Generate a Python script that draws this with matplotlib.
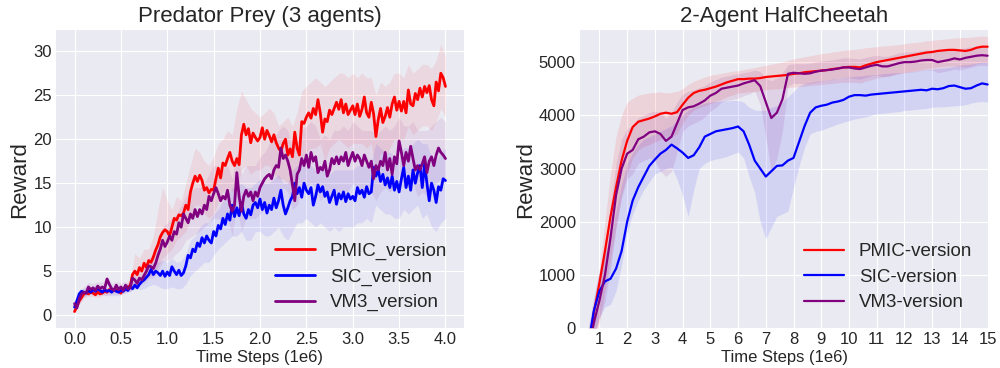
import numpy as np
import matplotlib
matplotlib.use("Agg")
import matplotlib.pyplot as plt

# ---------------- Left: Predator Prey (3 agents) ----------------
pp_steps = np.linspace(0.0, 4.0, 161)
pp_pmic = [
    0.4, 1.0, 1.6, 2.0, 2.4, 2.6, 2.4, 2.6, 2.5, 2.3, 2.6, 2.4, 2.5, 2.7, 2.6, 2.9, 2.7, 2.9, 2.8, 2.7,
    2.5, 3.0, 2.9, 3.2, 3.3, 4.6, 5.0, 4.6, 5.4, 5.0, 5.9, 5.4, 6.2, 6.0, 6.6, 7.4, 8.0, 8.9, 9.4, 9.7,
    9.5, 9.0, 10.0, 11.0, 10.8, 11.4, 11.3, 11.6, 12.5, 12.0, 14.0, 15.0, 15.8, 15.2, 15.9, 15.3, 14.2, 14.5, 13.9, 14.3,
    14.2, 15.5, 16.7, 15.6, 17.3, 17.0, 17.8, 18.5, 17.5, 17.0, 17.8, 17.1, 20.5, 21.7, 20.5, 21.2, 19.6, 20.7, 20.2, 19.8,
    20.2, 21.3, 20.0, 21.0, 20.4, 19.7, 20.5, 19.6, 19.0, 18.6, 19.5, 20.0, 18.2, 18.9, 18.0, 20.8, 19.0, 18.2, 22.0, 21.8,
    22.5, 23.0, 22.4, 23.5, 22.8, 24.5, 23.0, 20.8, 22.3, 22.0, 23.3, 22.8, 23.5, 24.2, 23.4, 24.5, 23.0, 24.0, 22.8, 23.3,
    23.8, 22.8, 24.0, 22.6, 23.4, 24.8, 23.0, 22.5, 24.2, 22.9, 20.3, 22.2, 23.5, 21.9, 22.6, 23.6, 22.5, 24.0, 24.8, 23.3,
    24.3, 23.2, 24.3, 23.0, 25.6, 24.0, 23.8, 25.2, 24.5, 25.8, 24.8, 26.0, 25.3, 26.1, 24.5, 23.8, 26.5, 25.5, 27.5, 27.0,
    26.0]
pp_sic = [
    0.9, 1.6, 2.4, 2.7, 2.6, 2.5, 2.8, 2.6, 2.9, 2.7, 3.0, 2.8, 2.6, 2.9, 2.7, 2.8, 2.6, 2.9, 2.7, 2.6,
    2.8, 2.7, 3.0, 2.8, 3.2, 3.0, 3.4, 3.1, 3.5, 3.8, 4.0, 4.3, 4.6, 5.2, 4.6, 5.0, 4.8, 4.5, 5.0, 4.4,
    4.9, 4.5, 5.5, 5.0, 4.6, 5.1, 4.5, 4.8, 5.6, 6.8, 6.5, 7.5, 7.2, 8.2, 7.8, 8.8, 8.2, 9.0, 8.5, 8.2,
    9.5, 9.0, 10.2, 9.8, 11.0, 10.3, 11.5, 10.8, 12.5, 11.2, 12.2, 11.3, 12.8, 11.5, 11.0, 12.0, 11.4, 12.5, 12.8, 12.2,
    13.2, 12.0, 12.8, 11.6, 12.5, 12.0, 13.3, 12.2, 13.0, 14.2, 12.5, 11.5, 12.2, 13.0, 13.5, 15.0, 13.8, 14.5, 13.4, 15.0,
    14.2, 13.8, 14.5, 12.5, 13.5, 14.8, 14.0, 14.6, 13.5, 14.0, 12.8, 13.5, 14.2, 12.6, 13.8, 13.2, 14.0, 12.9, 13.8, 13.2,
    13.5, 13.0, 14.5, 13.8, 14.2, 13.4, 14.6, 13.8, 14.0, 16.8, 15.8, 16.5, 15.2, 16.0, 14.8, 15.6, 14.5, 15.8, 14.2, 15.2,
    14.0, 15.5, 16.8, 14.5, 15.8, 14.2, 16.5, 15.0, 16.2, 17.0, 14.5, 17.2, 15.0, 13.0, 15.0, 14.2, 12.8, 14.6, 14.2, 15.5,
    15.3]
pp_vm3 = [
    1.3, 0.8, 1.8, 2.4, 2.6, 2.5, 3.2, 2.9, 3.1, 2.8, 3.3, 3.0, 3.2, 3.0, 4.1, 3.5, 3.0, 2.8, 3.4, 2.9,
    3.2, 2.8, 3.4, 3.0, 3.1, 4.2, 4.0, 3.6, 4.2, 4.0, 4.5, 5.0, 5.6, 5.5, 5.3, 5.9, 6.8, 7.5, 8.5, 7.8,
    8.3, 9.0, 8.5, 9.5, 9.2, 10.5, 10.0, 11.5, 11.0, 10.5, 11.5, 11.0, 12.0, 11.2, 12.0, 11.5, 12.5, 12.0, 13.5, 13.0,
    13.8, 14.5, 13.8, 13.0, 13.5, 13.2, 14.2, 12.5, 11.8, 12.5, 16.2, 13.5, 11.8, 13.5, 14.2, 13.5, 14.0, 13.0, 14.0, 13.5,
    14.5, 15.0, 15.5, 15.8, 16.0, 15.5, 16.5, 17.0, 16.8, 19.0, 17.8, 18.2, 17.5, 16.5, 14.8, 13.0, 16.0, 16.5, 17.8, 17.0,
    18.2, 16.8, 18.5, 17.5, 18.0, 16.2, 16.8, 16.5, 17.5, 15.8, 16.5, 17.8, 17.2, 18.0, 17.2, 18.0, 17.5, 18.5, 17.0, 17.8,
    18.5, 17.5, 18.2, 17.8, 17.0, 18.2, 17.5, 16.8, 17.5, 15.5, 17.0, 16.5, 17.5, 17.0, 18.5, 16.5, 17.8, 16.0, 18.0, 17.2,
    19.8, 18.5, 17.0, 18.5, 17.5, 19.2, 17.8, 16.5, 17.0, 16.5, 17.2, 18.0, 16.2, 17.5, 18.0, 17.0, 18.2, 19.0, 18.5, 18.2,
    17.8]

pp_band_steps = np.linspace(0.0, 4.0, 81)
pp_pmic_hi = [
    0.8, 2.0, 2.8, 3.0, 3.0, 2.9, 3.0, 3.1, 3.2, 3.2, 3.2, 3.5, 4.0, 7.0, 6.5, 7.5, 7.5, 9.0, 12.0, 14.5,
    13.0, 12.0, 13.5, 13.0, 15.0, 17.0, 19.0, 18.5, 17.5, 17.0, 18.0, 19.5, 20.0, 21.0, 20.5, 23.5, 25.5, 24.5, 23.5, 23.0,
    22.5, 23.0, 23.5, 23.0, 21.5, 22.0, 22.5, 21.5, 23.0, 25.5, 26.0, 26.5, 27.0, 26.5, 26.0, 26.5, 27.0, 27.5, 27.5, 27.0,
    27.5, 27.0, 27.5, 27.0, 27.0, 25.0, 26.5, 26.0, 26.5, 27.5, 27.5, 27.0, 28.5, 27.5, 28.0, 28.5, 28.5, 28.0, 29.0, 30.8,
    29.5]
pp_pmic_lo = [
    0.2, 1.2, 2.0, 2.1, 2.1, 2.0, 2.2, 2.3, 2.4, 2.4, 2.3, 2.6, 2.8, 3.5, 3.8, 4.0, 4.3, 4.8, 5.5, 6.5,
    7.0, 7.5, 8.5, 9.0, 9.5, 11.0, 12.5, 12.5, 11.5, 11.0, 11.5, 13.0, 14.0, 14.5, 14.0, 14.0, 16.5, 17.0, 16.0, 16.5,
    16.5, 17.0, 17.0, 16.0, 15.5, 15.5, 15.0, 14.5, 15.5, 18.0, 18.5, 19.0, 19.0, 19.5, 17.5, 19.0, 19.5, 20.0, 19.5, 19.0,
    19.5, 19.5, 19.5, 19.0, 19.5, 16.5, 18.5, 18.0, 19.0, 20.0, 20.0, 20.0, 21.5, 20.5, 21.0, 21.5, 21.5, 21.0, 22.0, 23.5,
    22.5]
pp_sic_hi = [
    1.4, 2.9, 3.1, 3.2, 3.3, 3.4, 3.3, 3.2, 3.3, 3.2, 3.3, 3.5, 3.7, 3.9, 4.3, 4.8, 5.8, 6.0, 6.0, 6.2,
    6.0, 6.5, 6.0, 6.2, 7.0, 8.5, 9.0, 10.0, 10.5, 10.5, 11.5, 12.0, 13.0, 13.5, 14.5, 14.5, 15.0, 14.5, 14.5, 15.0,
    15.5, 15.0, 15.0, 15.5, 16.0, 15.0, 15.0, 16.5, 17.0, 17.0, 17.0, 17.0, 16.5, 17.0, 16.5, 16.0, 16.5, 16.5, 16.5, 16.5,
    16.5, 17.0, 17.0, 17.0, 17.5, 19.5, 19.0, 18.5, 18.5, 18.0, 18.0, 19.0, 19.0, 19.5, 20.0, 19.5, 19.5, 18.0, 17.5, 18.5,
    19.0]
pp_sic_lo = [
    0.4, 1.9, 2.1, 2.3, 2.4, 2.5, 2.3, 2.2, 2.2, 2.2, 2.3, 2.5, 2.7, 2.9, 2.9, 3.0, 3.3, 3.5, 3.3, 3.0,
    3.0, 3.2, 3.0, 3.0, 3.5, 4.5, 5.0, 5.5, 6.0, 6.0, 6.8, 7.5, 8.0, 8.5, 9.0, 9.0, 9.5, 8.5, 8.5, 9.5,
    9.5, 9.0, 9.0, 9.5, 10.0, 9.0, 8.5, 9.5, 10.5, 10.5, 11.0, 10.5, 10.0, 10.5, 10.0, 9.5, 10.0, 9.5, 10.0, 10.0,
    10.0, 10.5, 10.5, 11.0, 10.5, 12.5, 12.0, 11.5, 11.5, 11.0, 11.0, 12.0, 11.5, 12.0, 12.5, 11.0, 11.5, 10.0, 9.5, 10.5,
    11.0]
pp_vm3_hi = [
    1.8, 2.4, 3.2, 3.7, 3.6, 3.8, 3.7, 4.5, 3.6, 3.8, 3.7, 3.8, 3.7, 4.8, 5.0, 5.5, 6.5, 7.0, 8.5, 10.0,
    10.5, 11.0, 11.5, 12.5, 13.5, 14.0, 14.5, 14.5, 15.0, 16.0, 17.0, 17.0, 16.5, 17.0, 15.5, 18.5, 16.0, 17.0, 17.0, 17.0,
    18.0, 18.5, 19.5, 20.0, 21.0, 21.5, 21.0, 19.0, 19.5, 21.0, 21.5, 22.0, 21.5, 20.0, 20.5, 20.0, 21.0, 21.0, 21.5, 21.0,
    22.0, 21.5, 21.0, 21.0, 21.0, 20.5, 21.0, 21.5, 21.0, 21.5, 22.5, 21.5, 21.5, 22.0, 21.0, 21.0, 21.0, 21.5, 22.0, 22.5,
    22.0]
pp_vm3_lo = [
    0.8, 1.2, 2.0, 2.6, 2.5, 2.7, 2.6, 3.5, 2.5, 2.7, 2.6, 2.7, 2.6, 3.2, 3.4, 3.6, 4.2, 4.2, 5.0, 6.0,
    6.2, 6.5, 7.0, 7.5, 8.5, 8.8, 9.2, 9.5, 10.0, 10.5, 11.0, 11.0, 10.5, 11.0, 9.0, 12.5, 9.5, 11.0, 11.0, 11.0,
    11.5, 12.0, 12.5, 13.0, 13.5, 14.5, 14.0, 12.0, 12.5, 14.0, 14.5, 15.0, 14.5, 13.0, 13.5, 13.0, 14.0, 14.0, 14.0, 14.0,
    15.0, 14.5, 14.0, 14.0, 14.0, 13.0, 14.0, 14.5, 14.0, 14.5, 16.0, 14.5, 14.5, 15.0, 13.5, 14.0, 13.5, 14.5, 15.0, 15.5,
    15.0]

# ---------------- Right: 2-Agent HalfCheetah ----------------
hc_steps = np.linspace(0.6, 15.0, 73)
hc_pmic = [
    -500, 300, 850, 1450, 2100, 2650, 3150, 3520, 3780, 3880, 3910, 3940, 3980, 4030, 4050, 4030, 4060, 4200, 4330, 4420,
    4460, 4480, 4510, 4540, 4580, 4620, 4650, 4680, 4680, 4690, 4690, 4700, 4720, 4730, 4740, 4750, 4760, 4780, 4790, 4810,
    4820, 4830, 4840, 4850, 4870, 4880, 4900, 4910, 4910, 4900, 4940, 4970, 5000, 5020, 5040, 5060, 5080, 5100, 5120, 5140,
    5160, 5180, 5190, 5210, 5220, 5230, 5230, 5220, 5210, 5230, 5270, 5290, 5290]
hc_sic = [
    -300, 330, 700, 880, 930, 1120, 1450, 2000, 2400, 2650, 2850, 3050, 3170, 3280, 3350, 3450, 3380, 3300, 3200, 3250,
    3400, 3600, 3650, 3700, 3720, 3740, 3760, 3790, 3700, 3450, 3150, 3000, 2850, 2950, 3050, 3060, 3150, 3200, 3500, 3800,
    4050, 4150, 4180, 4200, 4240, 4260, 4290, 4350, 4380, 4380, 4370, 4390, 4400, 4410, 4420, 4430, 4440, 4450, 4460, 4470,
    4480, 4470, 4500, 4490, 4510, 4550, 4560, 4530, 4500, 4510, 4560, 4600, 4580]
hc_vm3 = [
    -400, 100, 520, 1000, 1700, 2500, 3000, 3280, 3350, 3550, 3600, 3680, 3700, 3650, 3520, 3600, 3850, 4100, 4150, 4170,
    4220, 4280, 4370, 4420, 4500, 4520, 4540, 4560, 4600, 4630, 4660, 4550, 4250, 3950, 4050, 4300, 4780, 4800, 4790, 4780,
    4790, 4820, 4840, 4850, 4860, 4880, 4900, 4900, 4880, 4870, 4900, 4930, 4950, 4920, 4920, 4950, 4980, 5000, 5000, 5010,
    5030, 5040, 5040, 5000, 5020, 5040, 5070, 5050, 5080, 5100, 5120, 5130, 5120]
hc_pmic_hi = [
    0, 500, 1100, 2000, 2900, 3600, 4000, 4250, 4320, 4380, 4400, 4420, 4430, 4440, 4420, 4430, 4450, 4500, 4580, 4640,
    4680, 4720, 4750, 4770, 4790, 4810, 4830, 4840, 4860, 4880, 4900, 4920, 4940, 4960, 4980, 5000, 5030, 5060, 5080, 5100,
    5120, 5140, 5160, 5170, 5190, 5200, 5220, 5230, 5240, 5250, 5270, 5280, 5290, 5300, 5310, 5320, 5330, 5345, 5360, 5370,
    5380, 5400, 5410, 5420, 5430, 5440, 5450, 5460, 5465, 5470, 5480, 5490, 5480]
hc_pmic_lo = [
    -800, -200, 100, 700, 1300, 1900, 2500, 2900, 3200, 3350, 3420, 3450, 3500, 3550, 3600, 3600, 3650, 3850, 4000, 4100,
    4150, 4180, 4220, 4260, 4300, 4350, 4380, 4420, 4430, 4440, 4450, 4460, 4480, 4490, 4500, 4510, 4520, 4530, 4540, 4550,
    4560, 4570, 4580, 4590, 4600, 4610, 4620, 4620, 4620, 4610, 4640, 4670, 4700, 4720, 4740, 4760, 4780, 4800, 4820, 4840,
    4860, 4880, 4890, 4910, 4920, 4930, 4930, 4920, 4910, 4930, 4970, 4990, 4990]
hc_sic_hi = [
    0, 600, 1100, 1400, 1700, 2200, 2700, 3100, 3300, 3450, 3550, 3600, 3650, 3700, 3750, 3800, 3900, 4000, 4100, 4150,
    4200, 4230, 4250, 4260, 4270, 4270, 4280, 4280, 4250, 4150, 4100, 4090, 4100, 4150, 4180, 4250, 4350, 4450, 4550, 4600,
    4620, 4640, 4650, 4660, 4680, 4690, 4710, 4720, 4730, 4740, 4750, 4760, 4770, 4780, 4790, 4800, 4800, 4810, 4820, 4830,
    4850, 4860, 4870, 4880, 4890, 4900, 4920, 4940, 4950, 4960, 4980, 5000, 4990]
hc_sic_lo = [
    -600, -100, 200, 400, 450, 700, 1200, 1800, 2150, 2400, 2600, 2750, 2900, 2950, 3000, 3030, 2800, 2500, 2100, 2600,
    3000, 3100, 3150, 3180, 3200, 3230, 3270, 3310, 3200, 2850, 2550, 2000, 1680, 1900, 2100, 2150, 2200, 2650, 3050, 3400,
    3650, 3700, 3720, 3760, 3800, 3840, 3870, 3900, 3930, 3950, 3970, 4000, 4030, 4040, 4050, 4060, 4070, 4090, 4100, 4110,
    4120, 4130, 4150, 4160, 4160, 4170, 4180, 4185, 4200, 4230, 4250, 4260, 4250]
hc_vm3_hi = [
    -100, 450, 900, 1500, 2300, 3100, 3550, 3750, 3800, 3950, 4000, 4050, 4080, 4050, 3950, 4050, 4250, 4400, 4450, 4480,
    4520, 4560, 4630, 4670, 4720, 4740, 4760, 4780, 4800, 4820, 4850, 4820, 4700, 4650, 4700, 4800, 4950, 4970, 4970, 4970,
    4980, 5000, 5020, 5030, 5040, 5060, 5080, 5080, 5070, 5060, 5090, 5110, 5130, 5110, 5110, 5140, 5170, 5190, 5190, 5200,
    5220, 5230, 5230, 5200, 5220, 5240, 5260, 5250, 5270, 5290, 5300, 5310, 5300]
hc_vm3_lo = [
    -700, -150, 200, 500, 1100, 1900, 2450, 2800, 2900, 3100, 3150, 3200, 3150, 2950, 2850, 2950, 3300, 3700, 3800, 3850,
    3900, 3970, 4080, 4150, 4250, 4280, 4300, 4320, 4370, 4400, 4450, 4200, 3600, 2950, 3200, 3700, 4550, 4600, 4600, 4590,
    4600, 4620, 4640, 4660, 4670, 4690, 4710, 4710, 4690, 4680, 4710, 4740, 4760, 4730, 4730, 4760, 4790, 4810, 4810, 4820,
    4840, 4850, 4850, 4800, 4820, 4840, 4870, 4850, 4880, 4900, 4930, 4940, 4930]

pp_labels = ["PMIC_version", "SIC_version", "VM3_version"]
hc_labels = ["PMIC-version", "SIC-version", "VM3-version"]
colors = ["#ff0000", "#0000ff", "#800080"]

plt.style.use("seaborn-v0_8-darkgrid")
plt.rcParams["font.family"] = ["Liberation Sans", "DejaVu Sans"]
plt.rcParams["text.color"] = "#262626"
plt.rcParams["axes.labelcolor"] = "#262626"
plt.rcParams["xtick.color"] = "#262626"
plt.rcParams["ytick.color"] = "#262626"

fig = plt.figure(figsize=(10, 3.68), dpi=100)
axL = fig.add_axes([0.056, 0.108, 0.408, 0.81])
axR = fig.add_axes([0.580, 0.108, 0.409, 0.81])

for mean, lo, hi, c, lab in zip([pp_pmic, pp_sic, pp_vm3],
                                [pp_pmic_lo, pp_sic_lo, pp_vm3_lo],
                                [pp_pmic_hi, pp_sic_hi, pp_vm3_hi], colors, pp_labels):
    axL.fill_between(pp_band_steps, lo, hi, color=c, alpha=0.08, linewidth=0)
    axL.plot(pp_steps, mean, color=c, lw=2.0, label=lab)

axL.set_xlim(-0.2, 4.2)
axL.set_ylim(-1.5, 32.4)
axL.set_xticks(np.arange(0, 4.01, 0.5))
axL.set_xticklabels([f"{v:.1f}" for v in np.arange(0, 4.01, 0.5)])
axL.set_yticks(np.arange(0, 31, 5))
axL.set_title("Predator Prey (3 agents)", fontsize=16)
axL.set_xlabel("Time Steps (1e6)", fontsize=12, labelpad=2)
axL.set_ylabel("Reward", fontsize=16, labelpad=2)
axL.tick_params(labelsize=12, pad=3)
axL.legend(loc="lower right", fontsize=13.5, frameon=False, handlelength=2.1,
           labelspacing=0.45, borderaxespad=0.5)

for mean, lo, hi, c, lab in zip([hc_pmic, hc_sic, hc_vm3],
                                [hc_pmic_lo, hc_sic_lo, hc_vm3_lo],
                                [hc_pmic_hi, hc_sic_hi, hc_vm3_hi], colors, hc_labels):
    axR.fill_between(hc_steps, lo, hi, color=c, alpha=0.1, linewidth=0)
    axR.plot(hc_steps, mean, color=c, lw=1.6, label=lab)

axR.set_xlim(0.3, 15.05)
axR.set_ylim(0, 5600)
axR.set_xticks(np.arange(1, 16, 1))
axR.set_yticks(np.arange(0, 5001, 1000))
axR.set_title("2-Agent HalfCheetah", fontsize=16)
axR.set_xlabel("Time Steps (1e6)", fontsize=12, labelpad=2)
axR.set_ylabel("Reward", fontsize=16, labelpad=2)
axR.tick_params(labelsize=12, pad=3)
axR.legend(loc="lower right", fontsize=13.5, frameon=False, handlelength=2.1,
           labelspacing=0.45, borderaxespad=0.5)

fig.savefig("out.png", dpi=100)
